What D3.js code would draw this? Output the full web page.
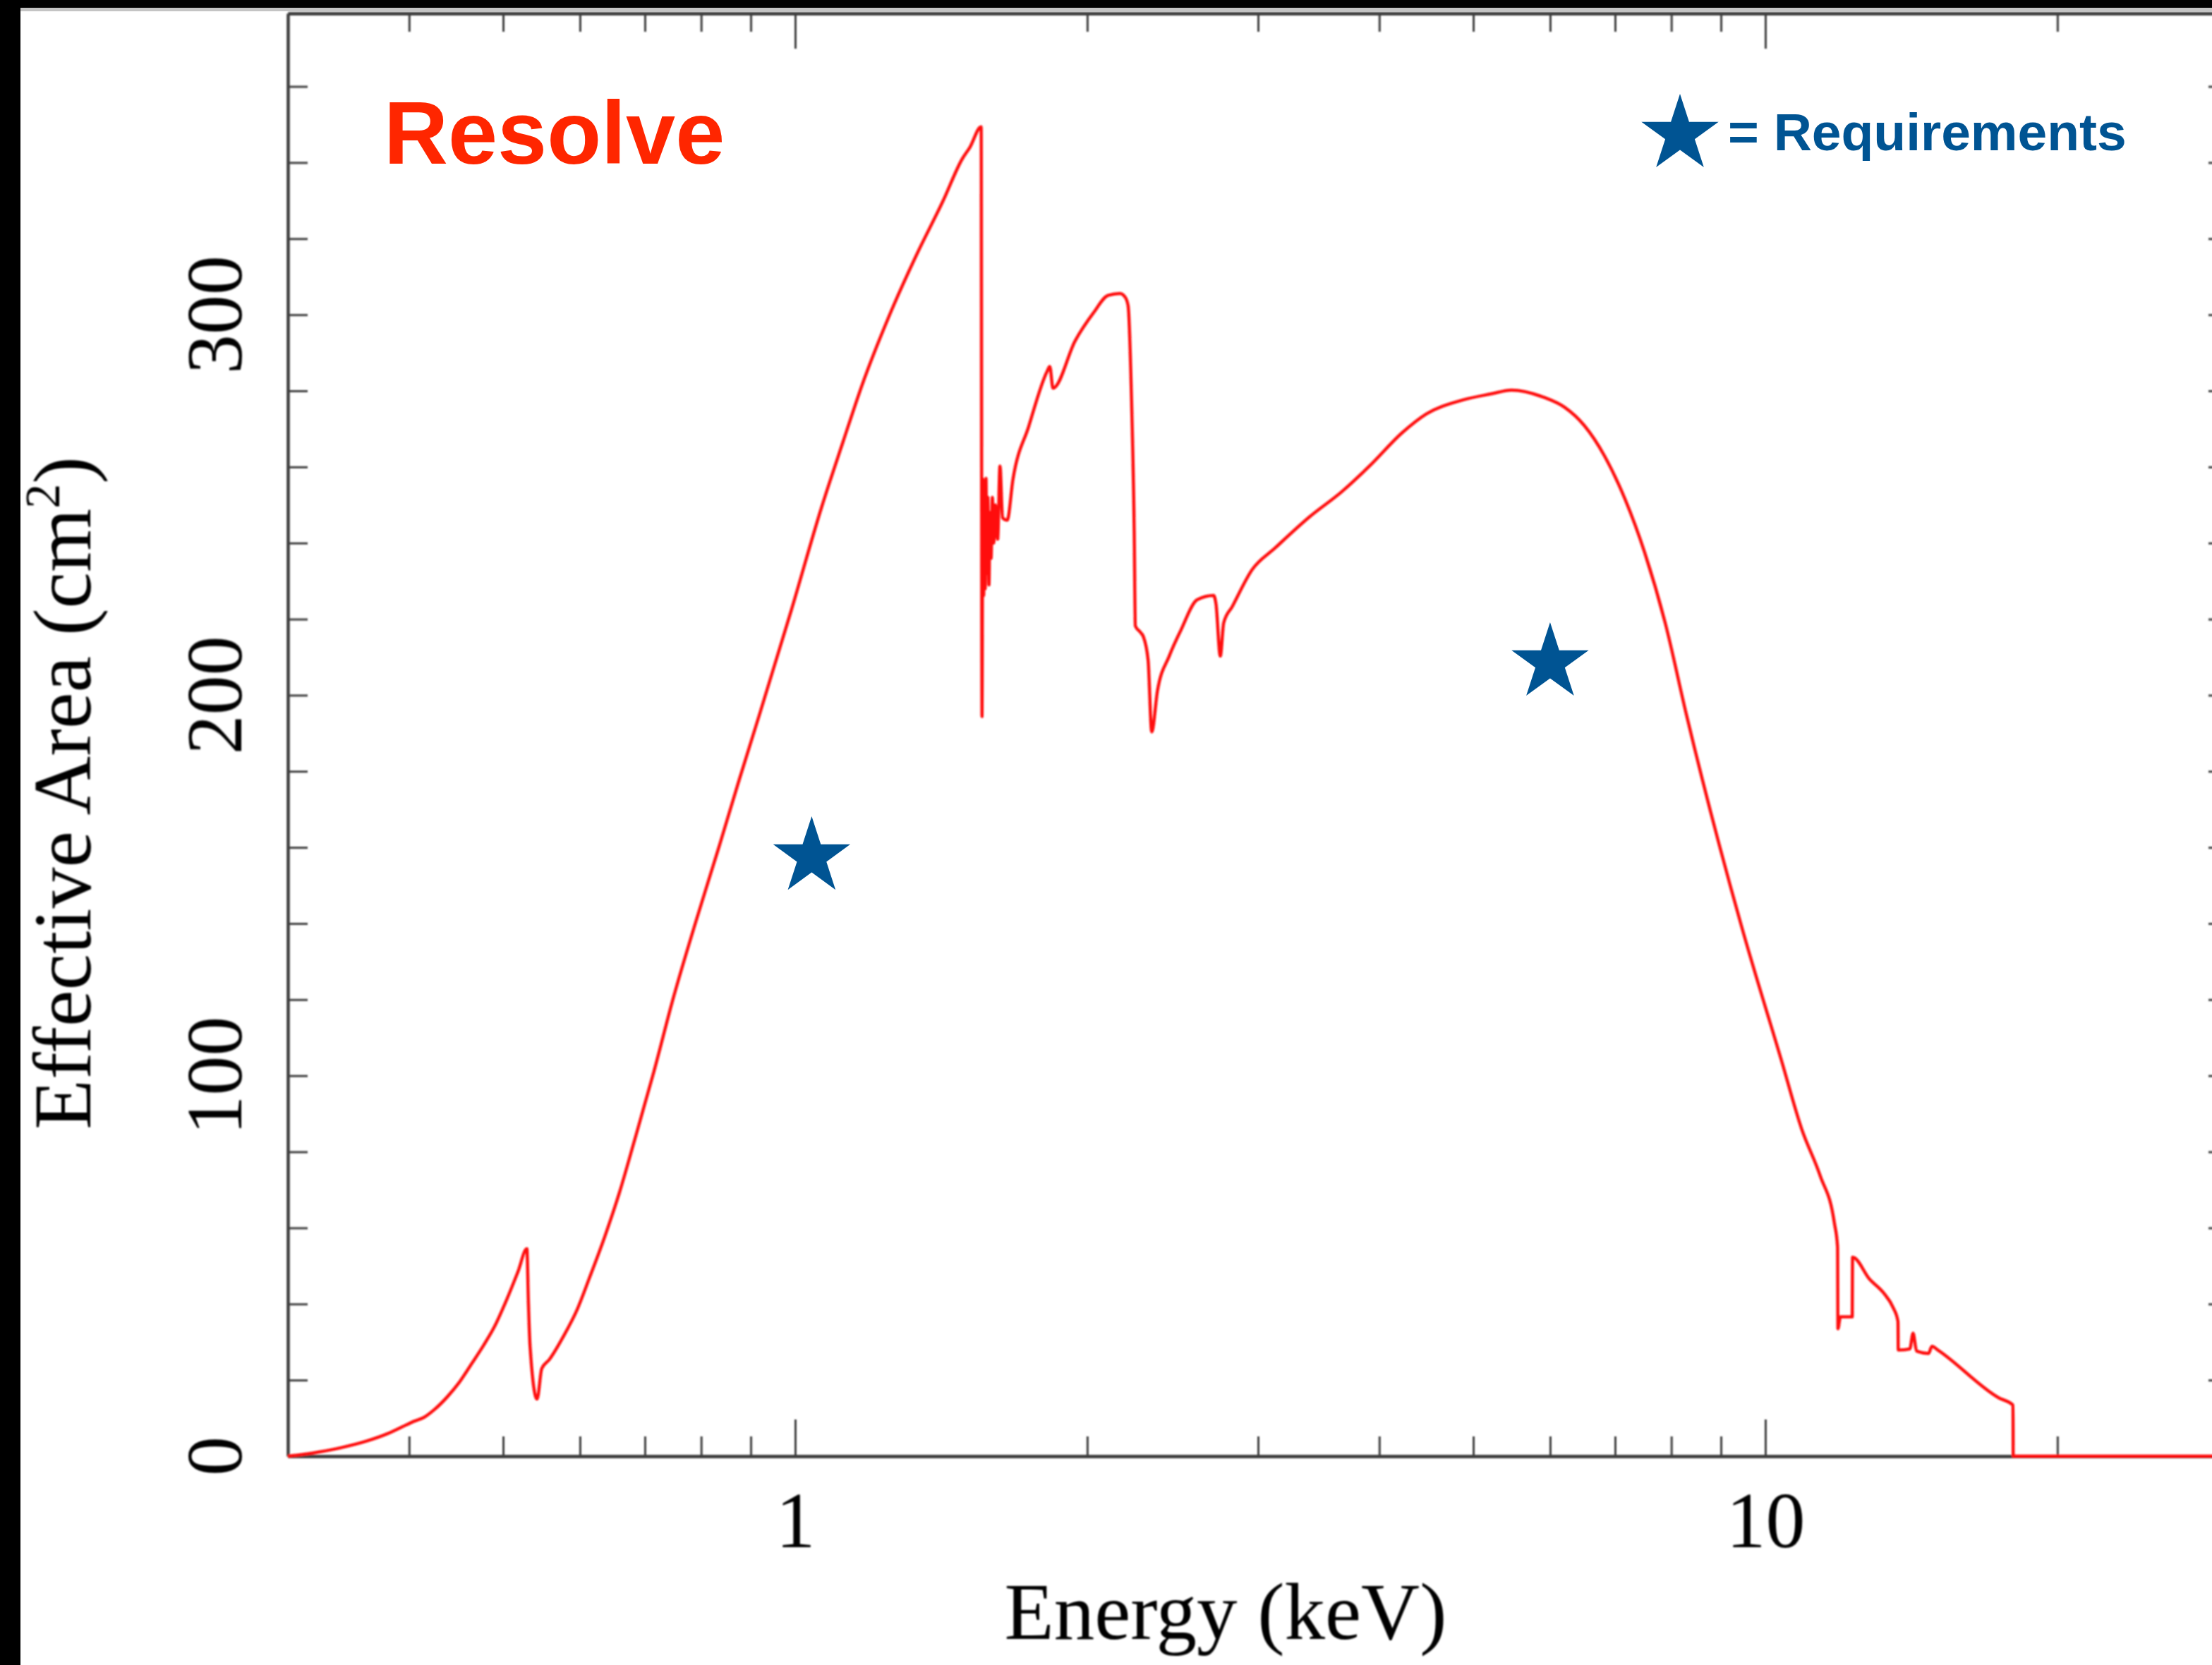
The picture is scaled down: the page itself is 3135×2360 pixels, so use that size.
<!DOCTYPE html>
<html>
<head>
<meta charset="utf-8">
<script src="https://cdn.jsdelivr.net/npm/d3@7"></script>
<style>
	body { margin:0; background:#fff; }
	svg { display:block; }
</style>
</head>
<body>
<div id="viz"></div>
<script>
var width 	= 3135;
var height 	= 2360;
var left 	= 408;
var right 	= 3158;	// right frame sits just past the picture edge
var plotTop 	= 19;
var bottom 	= 2064;

// effective area curve
var energy = [
	0.300, 0.310, 0.323, 0.340, 0.361, 0.380, 0.398, 0.405, 0.415, 0.425,
	0.438, 0.450, 0.464, 0.477, 0.490, 0.504, 0.518, 0.529, 0.531, 0.533,
	0.542, 0.548, 0.558, 0.577, 0.596, 0.614, 0.636, 0.659, 0.683, 0.715,
	0.749, 0.790, 0.835, 0.875, 0.919, 0.990, 1.065, 1.120, 1.172, 1.249,
	1.332, 1.421, 1.487, 1.514, 1.555, 1.558, 1.561, 1.564, 1.567, 1.570,
	1.573, 1.576, 1.580, 1.584, 1.588, 1.592, 1.597, 1.602, 1.608, 1.617,
	1.626, 1.636, 1.654, 1.677, 1.740, 1.819, 1.830, 1.844, 1.944, 2.030,
	2.102, 2.162, 2.190, 2.204, 2.222, 2.236, 2.242, 2.270, 2.285, 2.311,
	2.331, 2.363, 2.430, 2.498, 2.597, 2.700, 2.715, 2.743, 2.765, 2.822,
	2.958, 3.124, 3.387, 3.660, 3.911, 4.224, 4.471, 4.878, 5.216, 5.474,
	5.912, 6.208, 6.506, 6.830, 7.166, 7.510, 7.885, 8.290, 9.447, 10.39,
	10.90, 11.39, 11.78, 11.87, 11.88, 11.95, 12.29, 12.30, 12.81, 13.25,
	13.54, 13.70, 13.71, 14.09, 14.20, 14.32, 14.73, 14.85, 15.06, 17.41,
	18.00, 18.01, 30.00
];
var area = [
	0.0, 0.4, 1.1, 2.2, 3.9, 5.9, 8.3, 9.2, 10.3, 12.3,
	15.6, 19.2, 24.3, 29.0, 34.1, 41.0, 48.5, 54.5, 40.0, 29.0,
	15.0, 23.0, 25.4, 31.5, 38.5, 47.0, 57.5, 69.3, 83.0, 101.0,
	120.5, 140.5, 160.3, 177.5, 195.0, 222.0, 249.5, 266.5, 281.5, 299.5,
	315.4, 330.0, 341.0, 344.0, 349.4, 194.4, 256.8, 226.2, 250.0, 228.0,
	257.0, 232.0, 252.0, 229.0, 248.0, 236.0, 252.0, 240.0, 250.0, 241.0,
	260.2, 246.6, 246.0, 256.8, 270.5, 285.2, 286.4, 280.7, 293.2, 300.5,
	305.1, 305.6, 304.5, 302.3, 277.3, 243.2, 218.2, 216.5, 215.4, 209.2,
	190.4, 201.2, 210.3, 217.1, 225.1, 226.2, 224.0, 210.3, 219.0, 223.3,
	233.0, 238.7, 246.8, 253.5, 260.3, 269.0, 273.9, 277.6, 279.2, 280.2,
	278.3, 275.7, 270.9, 262.8, 251.6, 237.5, 219.0, 195.0, 139.4, 104.0,
	86.0, 73.7, 61.3, 55.0, 33.5, 36.6, 36.6, 52.3, 46.5, 42.8,
	39.1, 35.4, 27.9, 28.2, 32.3, 27.6, 27.0, 28.9, 27.9, 15.3,
	13.4, 0.0, 0.0
];

// requirement stars
var reqEnergy 	= [1.04, 6.0];
var reqArea 	= [157.5, 208.5];

var xMajor 	= [1, 10];
var xMinor 	= [0.4, 0.5, 0.6, 0.7, 0.8, 0.9, 2, 3, 4, 5, 6, 7, 8, 9, 20];
var yTicks 	= [0, 20, 40, 60, 80, 100, 120, 140, 160, 180, 200, 220, 240, 260, 280, 300, 320, 340, 360];
var yLabels 	= [0, 100, 200, 300];

var axisColor 	= "#3c3c3c";
var curveColor 	= "#ff1010";
var starColor 	= "#005493";
var serif 	= "'Liberation Serif', 'DejaVu Serif', serif";
var sans 	= "'Liberation Sans', Arial, sans-serif";

var x = d3.scaleLog().domain([0.3, 30]).range([left, right]);
var y = d3.scaleLinear().domain([0, 379.2]).range([bottom, plotTop]);

var svg = d3.select("#viz")
	.append("svg")
	.attr("width", width)
	.attr("height", height);

svg.append("rect").attr("width", width).attr("height", height).attr("fill", "#fff");

var defs = svg.append("defs");
defs.append("filter").attr("id", "soft")
	.append("feGaussianBlur").attr("stdDeviation", 1.3);

var plot = svg.append("g").attr("filter", "url(#soft)");

function styleAxis(g, w){
	g.selectAll("path, line").attr("stroke", axisColor).attr("stroke-width", w);
	g.select(".domain").attr("stroke-width", 4.5);
}

plot.append("g").attr("transform", "translate(0," + bottom + ")")
	.call(d3.axisBottom(x).tickValues(xMinor).tickSize(-28).tickSizeOuter(0).tickFormat(""))
	.call(styleAxis, 3);
var xLab = plot.append("g").attr("transform", "translate(0," + bottom + ")")
	.call(d3.axisBottom(x).tickValues(xMajor).tickSize(-52).tickSizeOuter(0).tickFormat(d3.format("d")))
	.call(styleAxis, 3);
xLab.selectAll("text")
	.attr("y", 129).attr("dy", null)
	.attr("fill", "#000")
	.style("font-family", serif).style("font-size", "112px");

plot.append("g").attr("transform", "translate(0," + plotTop + ")")
	.call(d3.axisTop(x).tickValues(xMinor).tickSize(-26).tickSizeOuter(0).tickFormat(""))
	.call(styleAxis, 3);
plot.append("g").attr("transform", "translate(0," + plotTop + ")")
	.call(d3.axisTop(x).tickValues(xMajor).tickSize(-50).tickSizeOuter(0).tickFormat(""))
	.call(styleAxis, 3);

plot.append("g").attr("transform", "translate(" + left + ",0)")
	.call(d3.axisLeft(y).tickValues(yTicks).tickSize(-28).tickSizeOuter(0).tickFormat(""))
	.call(styleAxis, 3);
plot.append("g").attr("transform", "translate(" + right + ",0)")
	.call(d3.axisRight(y).tickValues(yTicks).tickSize(-28).tickSizeOuter(0).tickFormat(""))
	.call(styleAxis, 3);

plot.selectAll(".ylab")
	.data(yLabels)
	.enter().append("text")
	.attr("class", "ylab")
	.attr("transform", function(d){ return "translate(342," + y(d) + ") rotate(-90)"; })
	.attr("text-anchor", "middle")
	.style("font-family", serif).style("font-size", "112px")
	.text(function(d){ return d; });

plot.append("text")
	.attr("x", 1737).attr("y", 2323)
	.attr("text-anchor", "middle")
	.style("font-family", serif).style("font-size", "115px")
	.text("Energy (keV)");

var yt = plot.append("text")
	.attr("transform", "translate(128,1124) rotate(-90)")
	.attr("text-anchor", "middle")
	.style("font-family", serif).style("font-size", "116px");
yt.append("tspan").text("Effective Area (cm");
yt.append("tspan").attr("dy", -44).style("font-size", "70px").text("2");
yt.append("tspan").attr("dy", 44).text(")");

var line = d3.line()
	.curve(d3.curveMonotoneX)
	.x(function(i){ return x(energy[i]); })
	.y(function(i){ return y(area[i]); });

plot.append("path")
	.attr("d", line(d3.range(energy.length)))
	.attr("fill", "none")
	.attr("stroke", curveColor)
	.attr("stroke-width", 4.5)
	.attr("stroke-linejoin", "round");

// picture border
svg.append("rect").attr("x", 0).attr("y", 11).attr("width", width).attr("height", 5).attr("fill", "#c4c4c4");
svg.append("rect").attr("x", 0).attr("y", 0).attr("width", width).attr("height", 11).attr("fill", "#000");
svg.append("rect").attr("x", 0).attr("y", 0).attr("width", 29).attr("height", height).attr("fill", "#000");

var star = d3.symbol().type(d3.symbolStar).size(3712);

svg.selectAll(".req")
	.data(d3.range(reqEnergy.length))
	.enter().append("path")
	.attr("class", "req")
	.attr("d", star)
	.attr("transform", function(i){ return "translate(" + x(reqEnergy[i]) + "," + y(reqArea[i]) + ")"; })
	.attr("fill", starColor);

svg.append("text")
	.attr("x", 544).attr("y", 232)
	.style("font-family", sans).style("font-weight", "bold").style("font-size", "126px")
	.attr("fill", "#ff2600")
	.text("Resolve");

svg.append("path")
	.attr("d", star)
	.attr("transform", "translate(2381,190.5)")
	.attr("fill", starColor);
svg.append("text")
	.attr("x", 2449).attr("y", 213)
	.style("font-family", sans).style("font-weight", "bold").style("font-size", "75px")
	.attr("fill", starColor)
	.text("= Requirements");
</script>
</body>
</html>
